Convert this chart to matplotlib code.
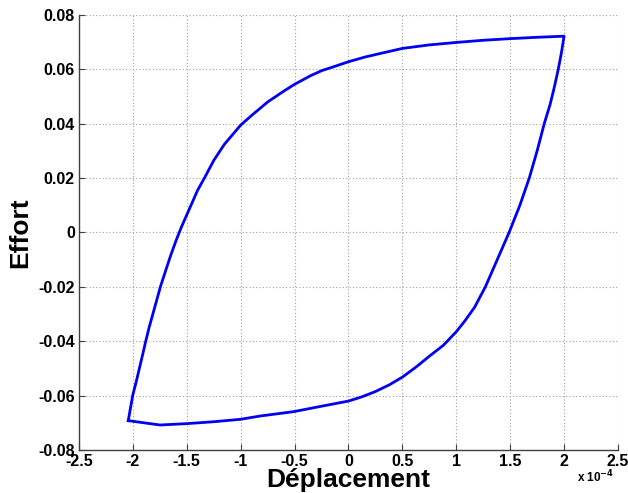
import matplotlib
matplotlib.use("Agg")
import matplotlib.pyplot as plt
import numpy as np

# loading branch (bottom-left corner up to top-right corner), x in units of 1e-4
x_up = [-2.043, -2.02, -2.002, -1.97, -1.94, -1.91, -1.881, -1.85, -1.815, -1.78,
        -1.745, -1.70, -1.65, -1.60, -1.55, -1.5, -1.45, -1.4, -1.33, -1.25,
        -1.15, -1.0, -0.9, -0.75, -0.6, -0.5, -0.35, -0.25, -0.12, 0.0,
        0.15, 0.29, 0.5, 0.75, 1.0, 1.25, 1.5, 1.75, 2.0]
y_up = [-0.0692, -0.064, -0.06, -0.055, -0.05, -0.045, -0.04, -0.035, -0.03, -0.025,
        -0.02, -0.0145, -0.0085, -0.003, 0.002, 0.0065, 0.011, 0.0155, 0.0205, 0.0265,
        0.0325, 0.0395, 0.043, 0.048, 0.052, 0.0545, 0.0577, 0.0595, 0.0612, 0.0628,
        0.0645, 0.0658, 0.0677, 0.069, 0.0699, 0.0707, 0.0713, 0.0718, 0.0722]

# unloading branch (top-right corner back to bottom-left corner)
x_down = [2.0, 1.975, 1.946, 1.91, 1.87, 1.816, 1.75, 1.677, 1.59, 1.49,
          1.38, 1.27, 1.17, 1.08, 1.0, 0.88, 0.75, 0.633, 0.5, 0.38,
          0.25, 0.12, 0.0, -0.264, -0.51, -0.82, -1.0, -1.25, -1.5, -1.749, -2.043]
y_down = [0.0722, 0.066, 0.06, 0.0535, 0.047, 0.04, 0.03, 0.02, 0.01, 0.0,
          -0.01, -0.02, -0.0275, -0.0325, -0.0365, -0.0415, -0.0455, -0.0493, -0.0532, -0.056,
          -0.0585, -0.0605, -0.062, -0.064, -0.0659, -0.0675, -0.0687, -0.0696, -0.0703, -0.0708, -0.0692]

xs = np.array(x_up + x_down[1:])
ys = np.array(y_up + y_down[1:])

plt.rcParams['font.family'] = ['Liberation Sans', 'DejaVu Sans']
plt.rcParams['font.weight'] = 'bold'
plt.rcParams['mathtext.default'] = 'bf'

fig = plt.figure(figsize=(6.28, 4.93), dpi=100)
ax = fig.add_axes([0.1258, 0.0872, 0.8582, 0.8824])

ax.plot(xs, ys, color=(0.0, 0.0, 0.95), linewidth=2.0, solid_joinstyle='round')

ax.set_xlim(-2.5, 2.5)
ax.set_ylim(-0.08, 0.08)
ax.set_xticks(np.arange(-2.5, 2.51, 0.5))
ax.set_yticks(np.arange(-0.08, 0.081, 0.02))
ax.set_xticklabels(['-2.5', '-2', '-1.5', '-1', '-0.5', '0', '0.5', '1', '1.5', '2', '2.5'])
ax.set_yticklabels(['-0.08', '-0.06', '-0.04', '-0.02', '0', '0.02', '0.04', '0.06', '0.08'])

ax.grid(True, linestyle=(0, (1, 2)), color='#a0a0a0', linewidth=0.8)
ax.spines['top'].set_visible(False)
ax.spines['right'].set_visible(False)
for side in ['left', 'bottom']:
    ax.spines[side].set_color('#404040')
    ax.spines[side].set_linewidth(1.0)
ax.tick_params(direction='in', length=4, width=0.8, color='#404040',
               labelsize=11.5, pad=3)
for lab in ax.get_xticklabels() + ax.get_yticklabels():
    lab.set_fontweight('bold')

ax.set_xlabel('Déplacement', fontsize=19, fontweight='bold', labelpad=-1)
ax.set_ylabel('Effort', fontsize=19, fontweight='bold', labelpad=4)

fig.text(0.948, 0.032, r'x 10$^{-4}$', fontsize=8.5, fontweight='bold', ha='center', va='center')

fig.savefig('out.png', dpi=100)
